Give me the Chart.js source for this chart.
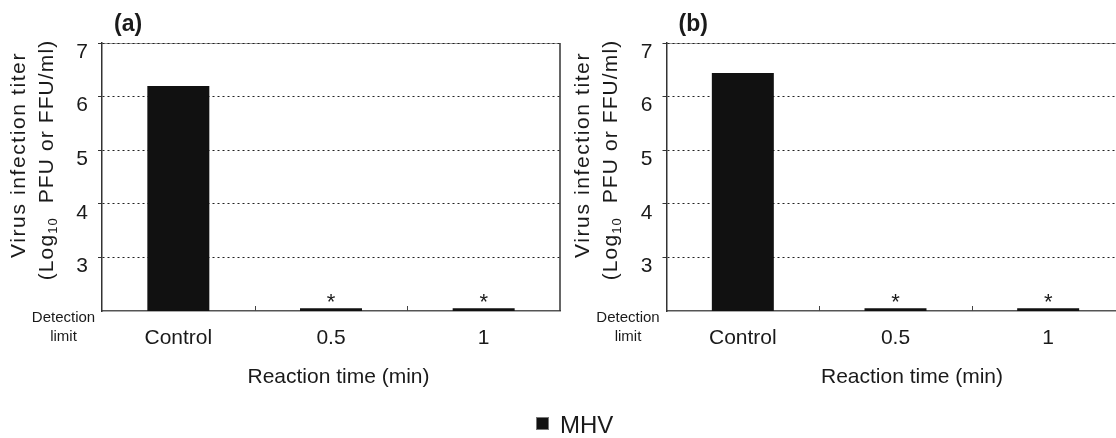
<!DOCTYPE html>
<html>
<head>
<meta charset="utf-8">
<script src="https://cdn.jsdelivr.net/npm/chart.js@4"></script>
<style>
  html, body { margin: 0; padding: 0; background: #fff; overflow: hidden; }
  #wrap { position: relative; width: 1116px; height: 438px; overflow: hidden; }
  canvas { position: absolute; top: 0; }
  #chartA { left: 0; }
  #chartB { left: 560px; }
</style>
</head>
<body>
<div id="wrap">
  <canvas id="chartA" width="640" height="438"></canvas>
  <canvas id="chartB" width="580" height="438"></canvas>
</div>
<script>
const categories = ["Control", "0.5", "1"];
const titerA = [6.2, 2.05, 2.05];
const titerB = [6.44, 2.05, 2.05];
const significant = [false, true, true];
const yTicks = [3, 4, 5, 6, 7];
const yMin = 2;
const yMax = 7;
const seriesLabel = "MHV";
const yTitle1 = "Virus infection titer";
const yTitle2 = ["(Log", "10", "  PFU or FFU/ml)"];
const xTitle = "Reaction time (min)";
const limitLabel = ["Detection", "limit"];

const FONT = "'Liberation Sans', Arial, sans-serif";
const INK = "#1a1a1a";
const BAR = "#111111";

Chart.defaults.font.family = FONT;
Chart.defaults.color = INK;

// extra drawing: borders, inward x ticks, asterisks, titles with subscript, legend
const decor = {
  id: "decor",
  beforeDraw(chart) {
    const { ctx, chartArea: a } = chart;
    ctx.save();
    ctx.strokeStyle = "#9a9a9a";
    ctx.lineWidth = 1;
    ctx.beginPath();
    ctx.moveTo(a.left, a.top + 0.5);
    ctx.lineTo(a.right, a.top + 0.5);
    ctx.stroke();
    ctx.restore();
  },
  afterDraw(chart, args, o) {
    const { ctx, chartArea: a, scales: { x } } = chart;
    ctx.save();

    // right border
    ctx.strokeStyle = "#333";
    ctx.lineWidth = 1.5;
    ctx.beginPath();
    ctx.moveTo(a.right, a.top);
    ctx.lineTo(a.right, a.bottom);
    ctx.stroke();

    // small tick marks between categories, pointing up
    ctx.lineWidth = 1;
    ctx.strokeStyle = "#444";
    for (let i = 1; i < categories.length; i++) {
      const px = Math.round((x.getPixelForValue(i - 1) + x.getPixelForValue(i)) / 2) + 0.5;
      ctx.beginPath();
      ctx.moveTo(px, a.bottom);
      ctx.lineTo(px, a.bottom - 5);
      ctx.stroke();
    }

    // asterisks over bars
    ctx.fillStyle = INK;
    ctx.font = "22px " + FONT;
    ctx.textAlign = "center";
    ctx.textBaseline = "alphabetic";
    chart.getDatasetMeta(0).data.forEach((bar, i) => {
      if (significant[i]) ctx.fillText("*", bar.x, bar.y + 1);
    });

    // panel label
    ctx.font = "bold 23px " + FONT;
    ctx.textAlign = "left";
    ctx.textBaseline = "middle";
    ctx.fillText(o.panel, a.left + 12, 25);

    // y title, two rotated lines
    ctx.save();
    ctx.letterSpacing = "1.6px";
    ctx.translate(a.left - 83, a.top + 112);
    ctx.rotate(-Math.PI / 2);
    ctx.font = "21px " + FONT;
    ctx.textAlign = "center";
    ctx.fillText(yTitle1, 0, 0);
    ctx.restore();

    ctx.save();
    ctx.letterSpacing = "1.1px";
    ctx.translate(a.left - 55, a.top + 117);
    ctx.rotate(-Math.PI / 2);
    const parts = [
      { t: yTitle2[0], size: 21, dy: 0 },
      { t: yTitle2[1], size: 13, dy: 6 },
      { t: yTitle2[2], size: 21, dy: 0 }
    ];
    let total = 0;
    parts.forEach(p => { ctx.font = p.size + "px " + FONT; p.w = ctx.measureText(p.t).width; total += p.w; });
    let cx = -total / 2;
    ctx.textAlign = "left";
    parts.forEach(p => { ctx.font = p.size + "px " + FONT; ctx.fillText(p.t, cx, p.dy); cx += p.w; });
    ctx.restore();

    // detection limit note
    ctx.font = "15px " + FONT;
    ctx.textAlign = "center";
    ctx.fillText(limitLabel[0], a.left - 38.5, a.bottom + 7);
    ctx.fillText(limitLabel[1], a.left - 38.5, a.bottom + 26);

    // x title
    ctx.font = "21px " + FONT;
    ctx.fillText(xTitle, (a.left + a.right) / 2 + o.xTitleShift, a.bottom + 66);

    // legend
    if (o.legend) {
      ctx.fillStyle = BAR;
      ctx.fillRect(536, 417, 13, 13);
      ctx.strokeStyle = "#777";
      ctx.lineWidth = 1;
      ctx.strokeRect(536.5, 417.5, 12, 12);
      ctx.fillStyle = INK;
      ctx.font = "24px " + FONT;
      ctx.textAlign = "left";
      ctx.fillText(chart.data.datasets[0].label, 560, 426);
    }
    ctx.restore();
  }
};

function makeChart(id, values, plotLeft, plotRight, panel, xTitleShift, legend) {
  const canvas = document.getElementById(id);
  return new Chart(canvas, {
    type: "bar",
    data: {
      labels: categories,
      datasets: [{
        label: seriesLabel,
        data: values,
        backgroundColor: BAR,
        borderWidth: 0,
        barPercentage: 0.406,
        categoryPercentage: 1
      }]
    },
    options: {
      responsive: false,
      animation: false,
      devicePixelRatio: 1,
      layout: { padding: { left: 0, top: 43, right: canvas.width - plotRight, bottom: 0 } },
      plugins: {
        legend: { display: false },
        tooltip: { enabled: false },
        decor: { panel: panel, xTitleShift: xTitleShift, legend: legend }
      },
      scales: {
        x: {
          afterFit: s => { s.height = 438 - 311; },
          grid: { display: false, drawTicks: false },
          border: { display: true, color: "#555", width: 1.5 },
          ticks: { font: { size: 21 }, color: INK, padding: 15 }
        },
        y: {
          min: yMin,
          max: yMax,
          afterFit: s => { s.width = plotLeft; },
          afterBuildTicks: s => { s.ticks = [yMin].concat(yTicks).map(v => ({ value: v })); },
          grid: {
            color: c => (c.tick && c.tick.value === yMin ? "rgba(0,0,0,0)" : "#222"),
            tickColor: c => (c.tick && c.tick.value === yMin ? "rgba(0,0,0,0)" : "#333"),
            lineWidth: 1,
            tickLength: 4,
            tickBorderDash: []
          },
          border: { display: true, color: "#333", width: 1.5, dash: [2, 3] },
          ticks: {
            callback: v => (yTicks.includes(v) ? String(v) : ""),
            font: { size: 21 },
            color: INK,
            padding: 10,
            labelOffset: 9
          }
        }
      }
    },
    plugins: [decor]
  });
}

makeChart("chartA", titerA, 102, 560, "(a)", 7.5, true);
makeChart("chartB", titerB, 106.5, 564.5, "(b)", 16.5, false);
</script>
</body>
</html>
